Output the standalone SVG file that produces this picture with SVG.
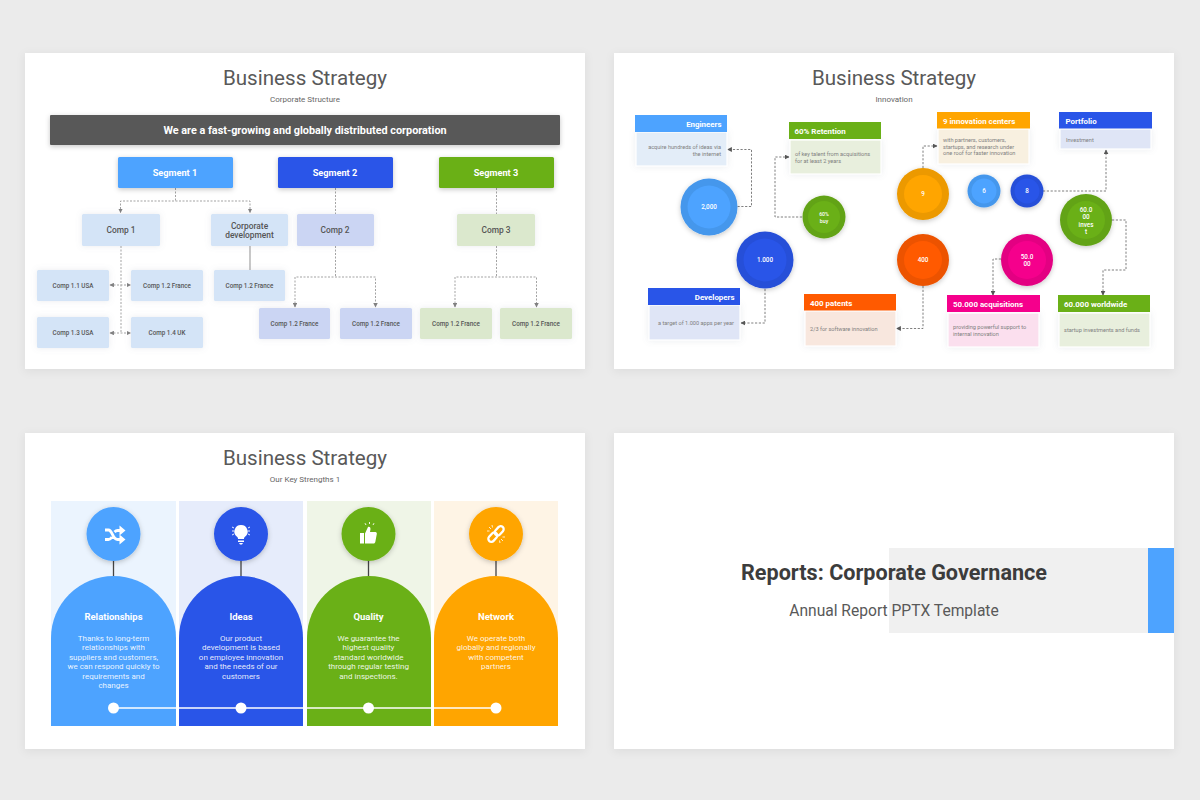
<svg xmlns="http://www.w3.org/2000/svg" width="1200" height="800" viewBox="0 0 1200 800">
<defs>
<filter id="sh" x="-10%" y="-10%" width="120%" height="125%"><feDropShadow dx="0" dy="2" stdDeviation="5" flood-color="#000" flood-opacity=".07"/></filter>
<filter id="s2" x="-30%" y="-30%" width="160%" height="170%"><feDropShadow dx="0" dy="1.5" stdDeviation="2.5" flood-color="#000" flood-opacity=".22"/></filter>
<filter id="s3" x="-30%" y="-30%" width="160%" height="160%"><feDropShadow dx="0" dy="0" stdDeviation="3" flood-color="#7a8a9a" flood-opacity=".16"/></filter>
<marker id="a" viewBox="0 0 8 8" refX="7" refY="4" markerWidth="4.500" markerHeight="4.500" orient="auto-start-reverse" markerUnits="userSpaceOnUse"><path d="M0 0L8 4L0 8Z" fill="#808080"/></marker>
<marker id="b" viewBox="0 0 8 8" refX="7" refY="4" markerWidth="5" markerHeight="5" orient="auto" markerUnits="userSpaceOnUse"><path d="M0 0L8 4L0 8Z" fill="#555"/></marker>
</defs>
<style>
text{font-family:Roboto,"Liberation Sans",sans-serif;text-anchor:middle}
.title{font-size:20.6px;fill:#595959}
.sub{font-size:8px;fill:#666}
.seg{font-size:9.2px;font-weight:700;fill:#fff}
.c{font-size:8.4px;font-weight:500;fill:#555}
.s{font-size:6.3px;font-weight:500;fill:#555}
.d{fill:none;stroke:#a3a3a3;stroke-width:1;stroke-dasharray:2 1.500}
.e{fill:none;stroke:#707070;stroke-width:.9;stroke-dasharray:2.200 1.600}
.h{font-size:7.9px;font-weight:700;fill:#fff}
.t{font-size:5.6px;fill:#808080}
.l{text-anchor:start}.r{text-anchor:end}
.n{font-size:6.3px;font-weight:500;fill:#fff}
.ab{font-size:9.5px;font-weight:700;fill:#fff}
.at{font-size:8px;fill:#fff;fill-opacity:.9}
.box{stroke:#fff;stroke-width:1.200}
</style>
<rect width="1200" height="800" fill="#ebebeb"/>
<g filter="url(#sh)" fill="#fff"><rect x="25" y="53" width="560" height="316"/><rect x="614" y="53" width="560" height="316"/><rect x="25" y="433" width="560" height="316"/><rect x="614" y="433" width="560" height="316"/></g>

<g id="slide-1-heading"><text class="title" x="305" y="85">Business Strategy</text><text class="sub" x="305" y="101.500">Corporate Structure</text></g>
<g id="banner"><rect x="50" y="115" width="510" height="30" rx="1" fill="#595959" filter="url(#s2)"/><text x="305" y="134" font-size="10.850" font-weight="700" fill="#fff">We are a fast-growing and globally distributed corporation</text></g>
<g id="connectors-1">
<path class="d" d="M175.500 188V201"/><path class="d" d="M120.500 212.500V201H250V212.500" marker-start="url(#a)" marker-end="url(#a)"/>
<path class="d" d="M121 246V333"/><path class="d" d="M110 285H130.500" marker-start="url(#a)" marker-end="url(#a)"/><path class="d" d="M110 333H130.500" marker-start="url(#a)" marker-end="url(#a)"/>
<path d="M250 246V270" stroke="#aaa" stroke-width="1.300" fill="none"/>
<path class="d" d="M335.500 188V214M335.500 246V277"/><path class="d" d="M295 307V277H375.500V307" marker-start="url(#a)" marker-end="url(#a)"/>
<path class="d" d="M496.500 188V214M496.500 246V277"/><path class="d" d="M455 307V277H536.500V307" marker-start="url(#a)" marker-end="url(#a)"/>
</g>
<g id="segment-1"><rect x="118" y="157" width="115" height="31" rx="1.500" fill="#4da3ff" filter="url(#s2)"/><text class="seg" x="175" y="175.500">Segment 1</text></g>
<g id="segment-2"><rect x="278" y="157" width="115" height="31" rx="1.500" fill="#2955e8" filter="url(#s2)"/><text class="seg" x="335" y="175.500">Segment 2</text></g>
<g id="segment-3"><rect x="439" y="157" width="115" height="31" rx="1.500" fill="#6ab017" filter="url(#s2)"/><text class="seg" x="496" y="175.500">Segment 3</text></g>
<g id="comp-1"><rect x="82" y="214" width="78" height="32" rx="1.500" fill="#d4e4f7" filter="url(#s3)"/><text class="c" x="121" y="233">Comp 1</text></g>
<g id="corporate-development"><rect x="211" y="214" width="77" height="32" rx="1.500" fill="#d4e4f7" filter="url(#s3)"/><text class="c" x="249.500" y="228.500">Corporate</text><text class="c" x="249.500" y="238">development</text></g>
<g id="comp-2"><rect x="297" y="214" width="77" height="32" rx="1.500" fill="#cbd5f3" filter="url(#s3)"/><text class="c" x="335" y="233">Comp 2</text></g>
<g id="comp-3"><rect x="457" y="214" width="78" height="32" rx="1.500" fill="#dbe8cd" filter="url(#s3)"/><text class="c" x="496" y="233">Comp 3</text></g>
<g id="comp-1-1"><rect x="37" y="270" width="72" height="31" rx="1.500" fill="#d4e4f7" filter="url(#s3)"/><text class="s" x="73" y="287.500">Comp 1.1 USA</text></g>
<g id="comp-1-2"><rect x="131" y="270" width="72" height="31" rx="1.500" fill="#d4e4f7" filter="url(#s3)"/><text class="s" x="167" y="287.500">Comp 1.2 France</text></g>
<g id="corp-1-2"><rect x="214" y="270" width="71" height="31" rx="1.500" fill="#d4e4f7" filter="url(#s3)"/><text class="s" x="249.500" y="287.500">Comp 1.2 France</text></g>
<g id="comp-1-3"><rect x="37" y="317" width="72" height="31" rx="1.500" fill="#d4e4f7" filter="url(#s3)"/><text class="s" x="73" y="335">Comp 1.3 USA</text></g>
<g id="comp-1-4"><rect x="131" y="317" width="72" height="31" rx="1.500" fill="#d4e4f7" filter="url(#s3)"/><text class="s" x="167" y="335">Comp 1.4 UK</text></g>
<g id="comp-2-a"><rect x="259" y="308" width="71" height="31" rx="1.500" fill="#cbd5f3" filter="url(#s3)"/><text class="s" x="294.500" y="326">Comp 1.2 France</text></g>
<g id="comp-2-b"><rect x="340" y="308" width="72" height="31" rx="1.500" fill="#cbd5f3" filter="url(#s3)"/><text class="s" x="376" y="326">Comp 1.2 France</text></g>
<g id="comp-3-a"><rect x="420" y="308" width="72" height="31" rx="1.500" fill="#dbe8cd" filter="url(#s3)"/><text class="s" x="456" y="326">Comp 1.2 France</text></g>
<g id="comp-3-b"><rect x="500" y="308" width="72" height="31" rx="1.500" fill="#dbe8cd" filter="url(#s3)"/><text class="s" x="536" y="326">Comp 1.2 France</text></g>

<g id="slide-2-heading"><text class="title" x="894" y="85">Business Strategy</text><text class="sub" x="894" y="101.500">Innovation</text></g>
<g id="connectors-2">
<path class="e" d="M737.500 206.500H751.500V149.500H727.500" marker-end="url(#b)"/>
<path class="e" d="M802 217H775V157H789" marker-end="url(#b)"/>
<path class="e" d="M765 289V323H741" marker-end="url(#b)"/>
<path class="e" d="M923 168V146H937" marker-end="url(#b)"/>
<path class="e" d="M923 286V328.500H896.500" marker-end="url(#b)"/>
<path class="e" d="M1043 191H1106V150" marker-end="url(#b)"/>
<path class="e" d="M1112 220H1126V270H1103V295" marker-end="url(#b)"/>
<path class="e" d="M1001 259H993V295" marker-end="url(#b)"/>
</g>
<g id="engineers"><rect x="636" y="132" width="91" height="34" fill="#e3edf8" class="box" filter="url(#s3)"/><rect x="635" y="115" width="92" height="17" fill="#4da3ff"/><text class="h r" x="721.500" y="126.800">Engineers</text><text class="t r" x="721" y="149">acquire hundreds of ideas via</text><text class="t r" x="721" y="155.500">the internet</text></g>
<g id="retention"><rect x="790" y="140" width="91" height="34" fill="#e8efdd" class="box" filter="url(#s3)"/><rect x="789" y="122" width="92" height="17" fill="#6ab017"/><text class="h l" x="794.500" y="133.800">60% Retention</text><text class="t l" x="795" y="156">of key talent from acquisitions</text><text class="t l" x="795" y="162.500">for at least 2 years</text></g>
<g id="developers"><rect x="649" y="305" width="91" height="35" fill="#dfe5f6" class="box" filter="url(#s3)"/><rect x="648" y="288" width="92" height="17" fill="#2955e8"/><text class="h r" x="734.500" y="299.800">Developers</text><text class="t r" x="734" y="325">a target of 1.000 apps per year</text></g>
<g id="patents"><rect x="805" y="311" width="91" height="35" fill="#f8e7de" class="box" filter="url(#s3)"/><rect x="804" y="294" width="92" height="16.500" fill="#ff5a00"/><text class="h l" x="810" y="305.800">400 patents</text><text class="t l" x="810" y="331">2/3 for software innovation</text></g>
<g id="innovation-centers"><rect x="938" y="129" width="91" height="35" fill="#f8f0e0" class="box" filter="url(#s3)"/><rect x="937" y="112" width="93" height="16.500" fill="#ffa500"/><text class="h l" x="943" y="123.500">9 innovation centers</text><text class="t l" x="943" y="142">with partners, customers,</text><text class="t l" x="943" y="148.500">startups, and research under</text><text class="t l" x="943" y="155">one roof for faster innovation</text></g>
<g id="portfolio"><rect x="1060" y="129" width="91" height="20" fill="#dfe5f6" class="box" filter="url(#s3)"/><rect x="1059" y="112" width="93" height="16.500" fill="#2955e8"/><text class="h l" x="1065.500" y="123.500">Portfolio</text><text class="t l" x="1066" y="141.500">Investment</text></g>
<g id="acquisitions"><rect x="948" y="313" width="91" height="34" fill="#fbdfee" class="box" filter="url(#s3)"/><rect x="947" y="295" width="93" height="17" fill="#f5008c"/><text class="h l" x="953" y="306.800">50.000 acquisitions</text><text class="t l" x="953" y="329">providing powerful support to</text><text class="t l" x="953" y="335.500">internal innovation</text></g>
<g id="worldwide"><rect x="1059" y="313" width="91" height="34" fill="#e8efdd" class="box" filter="url(#s3)"/><rect x="1058" y="295" width="92" height="17" fill="#6ab017"/><text class="h l" x="1064" y="306.800">60.000 worldwide</text><text class="t l" x="1064" y="332">startup investments and funds</text></g>
<g id="circle-2000"><circle cx="709" cy="207" r="28.500" fill="#4597ec" filter="url(#s2)"/><circle cx="709" cy="207" r="21.500" fill="#4da3ff"/><text class="n" x="709" y="209.300">2,000</text></g>
<g id="circle-60-buy"><circle cx="824" cy="217" r="21.500" fill="#62a315" filter="url(#s2)"/><circle cx="824" cy="217" r="16" fill="#6ab017"/><text class="n" style="font-size:5.200px" x="824" y="216">60%</text><text class="n" style="font-size:5.200px" x="824" y="222.800">buy</text></g>
<g id="circle-1000"><circle cx="765" cy="260" r="28.500" fill="#264fd8" filter="url(#s2)"/><circle cx="765" cy="260" r="21.500" fill="#2955e8"/><text class="n" x="765" y="262.300">1.000</text></g>
<g id="circle-9"><circle cx="923" cy="194" r="26" fill="#ec9900" filter="url(#s2)"/><circle cx="923" cy="194" r="19" fill="#ffa500"/><text class="n" x="923" y="196.300">9</text></g>
<g id="circle-400"><circle cx="923" cy="260" r="26" fill="#ec5300" filter="url(#s2)"/><circle cx="923" cy="260" r="19" fill="#ff5a00"/><text class="n" x="923" y="262.300">400</text></g>
<g id="circle-6"><circle cx="984" cy="191" r="16.500" fill="#4597ec" filter="url(#s2)"/><circle cx="984" cy="191" r="12.500" fill="#4da3ff"/><text class="n" x="984" y="193.300">6</text></g>
<g id="circle-8"><circle cx="1027" cy="191" r="16.500" fill="#264fd8" filter="url(#s2)"/><circle cx="1027" cy="191" r="12.500" fill="#2955e8"/><text class="n" x="1027" y="193.300">8</text></g>
<g id="circle-60000"><circle cx="1086" cy="220" r="26" fill="#62a315" filter="url(#s2)"/><circle cx="1086" cy="220" r="19" fill="#6ab017"/><text class="n" x="1086" y="211.500">60.0</text><text class="n" x="1086" y="219">00</text><text class="n" x="1086" y="226.500">inves</text><text class="n" x="1086" y="234">t</text></g>
<g id="circle-50000"><circle cx="1027" cy="260" r="26" fill="#e30082" filter="url(#s2)"/><circle cx="1027" cy="260" r="19" fill="#f5008c"/><text class="n" x="1027" y="258.500">50.0</text><text class="n" x="1027" y="266">00</text></g>

<g id="slide-3-heading"><text class="title" x="305" y="465">Business Strategy</text><text class="sub" x="305" y="481.500">Our Key Strengths 1</text></g>
<g id="bands"><rect x="51" y="501" width="125" height="225" fill="#ebf4fe"/><rect x="179" y="501" width="124" height="225" fill="#e6ecfb"/><rect x="307" y="501" width="124" height="225" fill="#eff5e7"/><rect x="434" y="501" width="124" height="225" fill="#fef4e5"/></g>
<g id="connectors-3" fill="none"><path d="M113.500 561V576M241 561V576M368.500 561V576M496 561V576" stroke="#444" stroke-width="1.300"/></g>
<g id="relationships"><path d="M51 726V638A62.500 62 0 0 1 176 638V726Z" fill="#4da3ff"/><circle cx="113.500" cy="534" r="27" fill="#4da3ff" filter="url(#s2)"/>
<g fill="none" stroke="#fff" stroke-width="2.800"><path d="M105 530h3.500c4 0 4 9.500 9 9.500h3.500M105 539.500h3.500c1.500 0 2.500-1 3.500-2.500M114.500 532c1-1 2-1.500 3-1.500h3.500"/></g><path d="M119.500 525.500l6 5-6 5zM119.500 534.500l6 5-6 5z" fill="#fff"/>
<text class="ab" x="113.500" y="620">Relationships</text><text class="at" x="113.500" y="641">Thanks to long-term</text><text class="at" x="113.500" y="650.400">relationships with</text><text class="at" x="113.500" y="659.800">suppliers and customers,</text><text class="at" x="113.500" y="669.200">we can respond quickly to</text><text class="at" x="113.500" y="678.600">requirements and</text><text class="at" x="113.500" y="688">changes</text></g>
<g id="ideas"><path d="M179 726V638A62 62 0 0 1 303 638V726Z" fill="#2955e8"/><circle cx="241" cy="534" r="27" fill="#2955e8" filter="url(#s2)"/>
<path d="M241 525a6.500 6.500 0 0 1 4 11.700c-.8.700-1 1.300-1 2.300h-6c0-1-.2-1.600-1-2.300a6.500 6.500 0 0 1 4-11.700zM238 540.500h6v1.500h-6zM239 543h4l-1 1.500h-2z" fill="#fff"/><path d="M232 527l2 1M232 531h2.500M232 535l2-1M250 527l-2 1M250 531h-2.500M250 535l-2-1" stroke="#fff" stroke-width=".9"/>
<text class="ab" x="241" y="620">Ideas</text><text class="at" x="241" y="641">Our product</text><text class="at" x="241" y="650.400">development is based</text><text class="at" x="241" y="659.800">on employee innovation</text><text class="at" x="241" y="669.200">and the needs of our</text><text class="at" x="241" y="678.600">customers</text></g>
<g id="quality"><path d="M307 726V638A62 62 0 0 1 431 638V726Z" fill="#6ab017"/><circle cx="368.500" cy="534" r="27" fill="#6ab017" filter="url(#s2)"/>
<path d="M360 533h4v10.500h-4zM365 533.500l3-6.500c1.500-.5 2.500 .5 2.500 2l-.5 3h5.500c1 0 1.500 1 1.300 2l-1.500 8c-.2 .8-.8 1.500-1.800 1.500H365z" fill="#fff"/><path d="M366 525l-1-1.800M369.500 524v-2M373 525l1-1.800" stroke="#fff" stroke-width=".9"/>
<text class="ab" x="368.500" y="620">Quality</text><text class="at" x="368.500" y="641">We guarantee the</text><text class="at" x="368.500" y="650.400">highest quality</text><text class="at" x="368.500" y="659.800">standard worldwide</text><text class="at" x="368.500" y="669.200">through regular testing</text><text class="at" x="368.500" y="678.600">and inspections.</text></g>
<g id="network"><path d="M434 726V638A62 62 0 0 1 558 638V726Z" fill="#ffa500"/><circle cx="496" cy="534" r="27" fill="#ffa500" filter="url(#s2)"/>
<g fill="none" stroke="#fff" stroke-width="2.300"><rect x="487.500" y="534" width="10.500" height="6" rx="3" transform="rotate(-48 493 537)"/><rect x="494" y="528" width="10.500" height="6" rx="3" transform="rotate(-48 499 531)"/></g><path d="M489 527l2 2M487 531h2.500M492 525l.5 2.500M503 541l-2-2M505 537h-2.500M500 543l-.5-2.500" stroke="#fff" stroke-width=".8"/>
<text class="ab" x="496" y="620">Network</text><text class="at" x="496" y="641">We operate both</text><text class="at" x="496" y="650.400">globally and regionally</text><text class="at" x="496" y="659.800">with competent</text><text class="at" x="496" y="669.200">partners</text></g>
<g id="timeline"><path d="M113.500 708H496" stroke="#fff" stroke-width="1.500"/><g fill="#fff"><circle cx="113.500" cy="708" r="5.500"/><circle cx="241" cy="708" r="5.500"/><circle cx="368.500" cy="708" r="5.500"/><circle cx="496" cy="708" r="5.500"/></g></g>

<g id="cover"><rect x="889" y="548" width="259" height="85" fill="#f0f0f0"/><rect x="1148" y="548" width="26" height="85" fill="#4da3ff"/><text x="894" y="579.500" font-size="21.600" font-weight="700" fill="#3c3c3c">Reports: Corporate Governance</text><text x="894" y="616" font-size="15.600" fill="#595959">Annual Report PPTX Template</text></g>
</svg>
